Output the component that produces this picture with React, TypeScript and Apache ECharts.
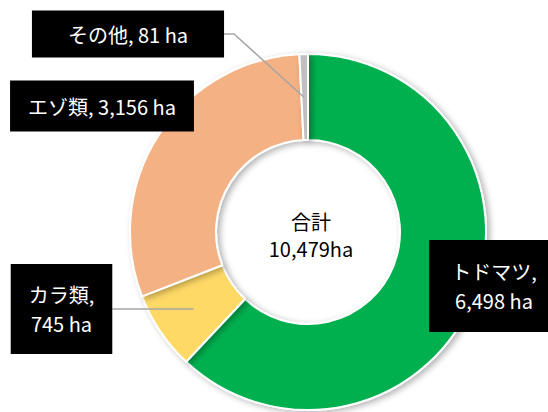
import React, { useEffect, useRef } from "react";
import * as echarts from "echarts";

// ---- data ----
const categories = ["トドマツ", "カラ類", "エゾ類", "その他"];
const areas = [6498, 745, 3156, 81];
const unit = "ha";
const totalTitle = "合計";
const totalText = "10,479ha";

// ---- styles / layout (not data) ----
const colors = ["#00B050", "#FFD966", "#F4B183", "#BFBFBF"];
const labelCenters: number[][] = [
  [494, 286],
  [61.5, 309],
  [102, 106],
  [128, 34],
];
const labelPads: number[][] = [
  [17, 22],
  [16, 18],
  [11, 18],
  [9, 36],
];
const labelTwoLine = [true, true, false, false];
const labelLineShow = [false, true, false, true];
const labelLineElbow = [0, 0, 0, 10];

const FONT = "'Noto Sans CJK JP', 'Noto Sans', sans-serif";
const CENTER = [308, 232];
const RADIUS = [92, 178];

export default function App() {
  const ref = useRef<HTMLDivElement>(null);

  useEffect(() => {
    document.body.style.margin = "0";
    if (!ref.current) return;
    const chart = echarts.init(ref.current, undefined, { renderer: "svg" });

    const sliceData = categories.map((name, i) => ({
      name,
      value: areas[i],
      itemStyle: { color: colors[i] },
    }));

    const labelData = categories.map((name, i) => ({
      name,
      value: areas[i],
      label: { padding: labelPads[i] },
      labelLine: { show: labelLineShow[i] },
    }));

    chart.setOption({
      animation: false,
      backgroundColor: "#ffffff",
      graphic: [
        {
          type: "text",
          x: 311,
          y: 235,
          z: 100,
          style: {
            text: totalTitle + "\n" + totalText,
            align: "center",
            verticalAlign: "middle",
            fontSize: 20,
            lineHeight: 27,
            fontFamily: FONT,
            fill: "#000000",
          },
        },
      ],
      series: [
        {
          type: "pie",
          z: 2,
          center: CENTER,
          radius: RADIUS,
          startAngle: 90,
          clockwise: true,
          silent: true,
          label: { show: false },
          labelLine: { show: false },
          itemStyle: {
            borderColor: "#ffffff",
            borderWidth: 2,
            shadowBlur: 6,
            shadowOffsetX: 3,
            shadowOffsetY: 2,
            shadowColor: "rgba(0,0,0,0.3)",
          },
          emphasis: { disabled: true },
          data: sliceData,
        },
        {
          type: "pie",
          z: 5,
          center: CENTER,
          radius: RADIUS,
          startAngle: 90,
          clockwise: true,
          silent: true,
          avoidLabelOverlap: false,
          itemStyle: { color: "rgba(0,0,0,0)", borderWidth: 0 },
          label: {
            show: true,
            position: "outside",
            color: "#ffffff",
            backgroundColor: "#000000",
            fontSize: 20,
            lineHeight: 29,
            fontFamily: FONT,
            formatter: (p: any) => {
              const v = Number(p.value).toLocaleString("en-US") + " " + unit;
              return labelTwoLine[p.dataIndex] ? p.name + ",\n" + v : p.name + ", " + v;
            },
          },
          labelLine: {
            show: true,
            lineStyle: { color: "#A6A6A6", width: 1.5 },
          },
          labelLayout: (params: any) => {
            const i = params.dataIndex;
            const c = labelCenters[i];
            const out: any = { x: c[0], y: c[1], align: "center", verticalAlign: "middle" };
            if (labelLineShow[i] && params.rect && params.labelRect) {
              const r = params.rect;
              const hx = r.x + r.width / 2;
              const hy = r.y + r.height / 2;
              const bx = c[0] + params.labelRect.width / 2;
              const e = labelLineElbow[i];
              out.labelLinePoints =
                e > 0
                  ? [[bx, c[1]], [bx + e, c[1]], [hx, hy]]
                  : [[bx, c[1]], [hx, c[1]]];
            }
            return out;
          },
          emphasis: { disabled: true },
          data: labelData,
        },
      ],
    });

    return () => chart.dispose();
  }, []);

  return <div ref={ref} style={{ width: 548, height: 412 }} />;
}
